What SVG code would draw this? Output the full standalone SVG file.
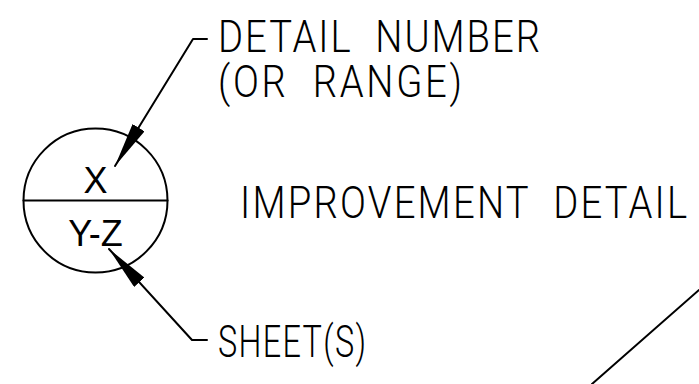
<svg xmlns="http://www.w3.org/2000/svg" width="699" height="384" viewBox="0 0 699 384">
  <style>
    .bg { fill: #ffffff; }
    .ln { fill: none; stroke: #000000; stroke-width: 2; stroke-linecap: round; stroke-linejoin: round; }
    .lbl { font-family: Roboto, "Liberation Sans", sans-serif; font-weight: 300; font-size: 45px; fill: #000000; white-space: pre; }
    .sym { font-family: "Liberation Sans", Arial, sans-serif; font-size: 36px; fill: #000000; text-anchor: middle; }
  </style>
  <defs>
    <marker id="arr" viewBox="0 0 45 14" refX="45" refY="7" markerWidth="45" markerHeight="14" markerUnits="userSpaceOnUse" orient="auto">
      <path d="M0,0 L45,7 L0,14 Z" fill="#000000"/>
    </marker>
  </defs>
  <rect class="bg" x="0" y="0" width="699" height="384"/>

  <g id="callout-symbol">
    <circle class="ln" cx="95.5" cy="200.5" r="72"/>
    <line class="ln" x1="23.5" y1="200.5" x2="167.5" y2="200.5"/>
    <text class="sym" x="95.5" y="193">X</text>
    <text class="sym" x="95.5" y="246">Y-Z</text>
  </g>

  <g id="label-detail">
    <text class="lbl" xml:space="preserve" transform="scale(0.85,1)" x="256.5" y="52" textLength="378.8" lengthAdjust="spacing">DETAIL  NUMBER</text>
    <text class="lbl" xml:space="preserve" transform="scale(0.85,1)" x="256.5" y="97" textLength="287" lengthAdjust="spacing">(OR  RANGE)</text>
  </g>

  <g id="label-title">
    <text class="lbl" xml:space="preserve" transform="scale(0.85,1)" x="282.4" y="218" textLength="526" lengthAdjust="spacing">IMPROVEMENT  DETAIL</text>
  </g>

  <g id="label-sheet">
    <text class="lbl" xml:space="preserve" transform="scale(0.72,1)" x="302.8" y="357" textLength="205.6" lengthAdjust="spacing">SHEET(S)</text>
  </g>

  <g id="connectors">
    <polyline class="ln" points="207,39 193,39 115,166" marker-end="url(#arr)"/>
    <polyline class="ln" points="207,340 192,340 109,249" marker-end="url(#arr)"/>
    <line class="ln" x1="592" y1="384" x2="699" y2="290"/>
  </g>
</svg>
